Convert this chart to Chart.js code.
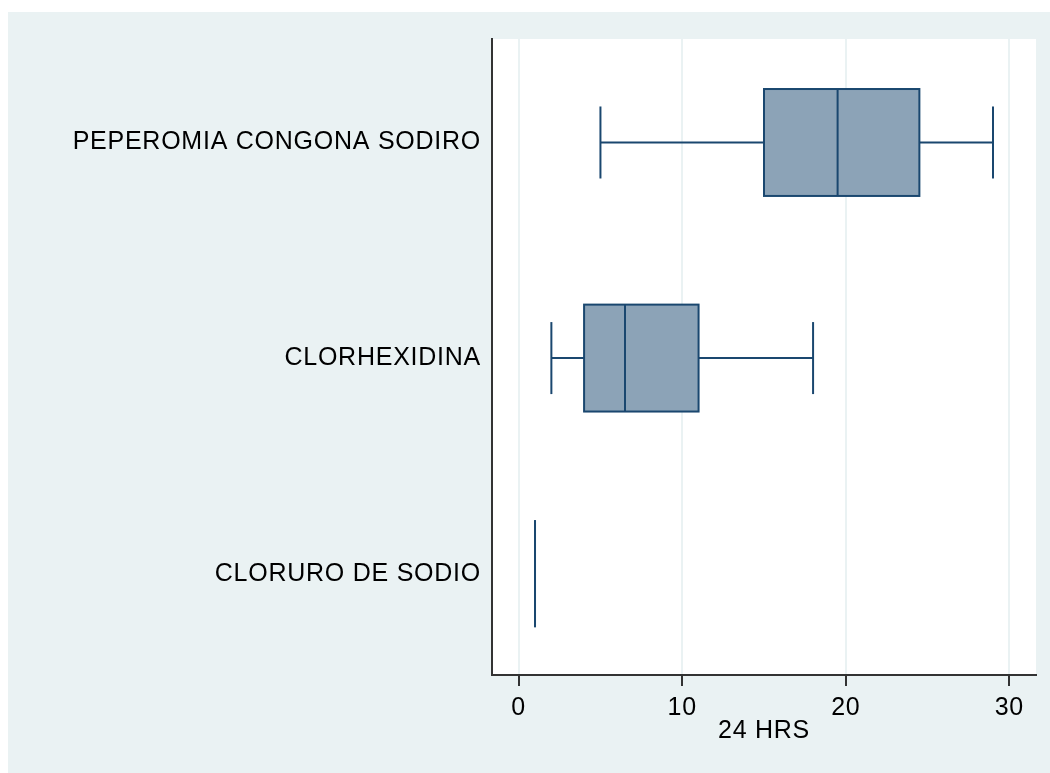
<!DOCTYPE html>
<html>
<head>
<meta charset="utf-8">
<script src="https://cdn.jsdelivr.net/npm/chart.js@4.4.1/dist/chart.umd.min.js"></script>
<style>
  html, body { margin: 0; padding: 0; background: #ffffff; }
  #wrap { position: absolute; left: 8px; top: 12px; width: 1042px; height: 761px; }
</style>
</head>
<body>
<div id="wrap"><canvas id="chart"></canvas></div>
<script>
// Groups (top to bottom) and their box-plot summaries
const categories = ['PEPEROMIA CONGONA SODIRO', 'CLORHEXIDINA', 'CLORURO DE SODIO'];
const lowerWhisker = [5, 2, 1];
const lowerQuartile = [15, 4, 1];
const medians = [19.5, 6.5, 1];
const upperQuartile = [24.5, 11, 1];
const upperWhisker = [29, 18, 1];
const xTickValues = [0, 10, 20, 30];
const xTitle = '24 HRS';

const NAVY = '#1a476f';
const BOX_FILL = '#8ca3b7';
const BG = '#eaf2f3';
const BOX_HALF = 0.248;   // half box height, in category units
const CAP_HALF = 0.167;   // half whisker-cap height
const FONT = { family: "'Liberation Sans', Arial, sans-serif", size: 25 };
const SPACING = '0.75px';

const backgroundPlugin = {
  id: 'backgrounds',
  beforeDraw(chart) {
    const { ctx, chartArea: a } = chart;
    ctx.save();
    ctx.fillStyle = BG;
    ctx.fillRect(0, 0, chart.width, chart.height);
    ctx.fillStyle = '#ffffff';
    ctx.fillRect(a.left, a.top, a.right - a.left, a.bottom - a.top);
    ctx.restore();
    ctx.letterSpacing = SPACING;
  }
};

const boxPlotPlugin = {
  id: 'boxplots',
  afterDatasetsDraw(chart) {
    const { ctx } = chart;
    const xs = chart.scales.x, ys = chart.scales.y;
    const px = v => xs.getPixelForValue(v);
    ctx.save();
    ctx.strokeStyle = NAVY;
    ctx.lineWidth = 2;
    ctx.lineCap = 'butt';
    const line = (x1, y1, x2, y2) => {
      ctx.beginPath(); ctx.moveTo(x1, y1); ctx.lineTo(x2, y2); ctx.stroke();
    };
    categories.forEach((name, i) => {
      const pos = i + 1;
      const yc = ys.getPixelForValue(pos);
      const bTop = ys.getPixelForValue(pos - BOX_HALF);
      const bBot = ys.getPixelForValue(pos + BOX_HALF);
      const cTop = ys.getPixelForValue(pos - CAP_HALF);
      const cBot = ys.getPixelForValue(pos + CAP_HALF);
      const lw = px(lowerWhisker[i]), q1 = px(lowerQuartile[i]);
      const md = px(medians[i]), q3 = px(upperQuartile[i]), uw = px(upperWhisker[i]);
      // whiskers and caps
      line(lw, yc, q1, yc);
      line(q3, yc, uw, yc);
      line(lw, cTop, lw, cBot);
      line(uw, cTop, uw, cBot);
      // box
      ctx.fillStyle = BOX_FILL;
      ctx.fillRect(q1, bTop, q3 - q1, bBot - bTop);
      ctx.strokeRect(q1, bTop, q3 - q1, bBot - bTop);
      // median
      line(md, bTop, md, bBot);
    });
    ctx.restore();
  }
};

new Chart(document.getElementById('chart'), {
  type: 'scatter',
  data: {
    datasets: [{
      data: categories.map((c, i) => ({ x: medians[i], y: i + 1 })),
      pointRadius: 0,
      pointHoverRadius: 0,
      showLine: false
    }]
  },
  options: {
    responsive: true,
    maintainAspectRatio: false,
    devicePixelRatio: 1,
    animation: false,
    events: [],
    layout: { padding: { left: 0, right: 14, top: 27, bottom: 0 } },
    plugins: { legend: { display: false }, tooltip: { enabled: false } },
    scales: {
      x: {
        type: 'linear',
        min: -1.63,
        max: 31.63,
        afterBuildTicks: s => { s.ticks = xTickValues.map(v => ({ value: v })); },
        afterFit: s => { s.height = 98; },
        grid: { color: BG, lineWidth: 2, tickColor: '#333333', tickLength: 11, drawTicks: true },
        border: { display: true, color: '#333333', width: 2 },
        ticks: { color: '#000000', font: FONT, padding: 7, maxRotation: 0, autoSkip: false },
        title: { display: true, text: xTitle, color: '#000000', font: FONT, padding: { top: 0, bottom: 27 } }
      },
      y: {
        type: 'linear',
        reverse: true,
        min: 0.52,
        max: 3.47,
        afterBuildTicks: s => { s.ticks = categories.map((c, i) => ({ value: i + 1 })); },
        afterFit: s => { s.width = 484; },
        grid: { display: false, drawTicks: false },
        border: { display: true, color: '#333333', width: 2 },
        ticks: {
          color: '#000000', font: FONT, padding: 11, autoSkip: false,
          callback: v => categories[v - 1] || ''
        }
      }
    }
  },
  plugins: [backgroundPlugin, boxPlotPlugin]
});
</script>
</body>
</html>
